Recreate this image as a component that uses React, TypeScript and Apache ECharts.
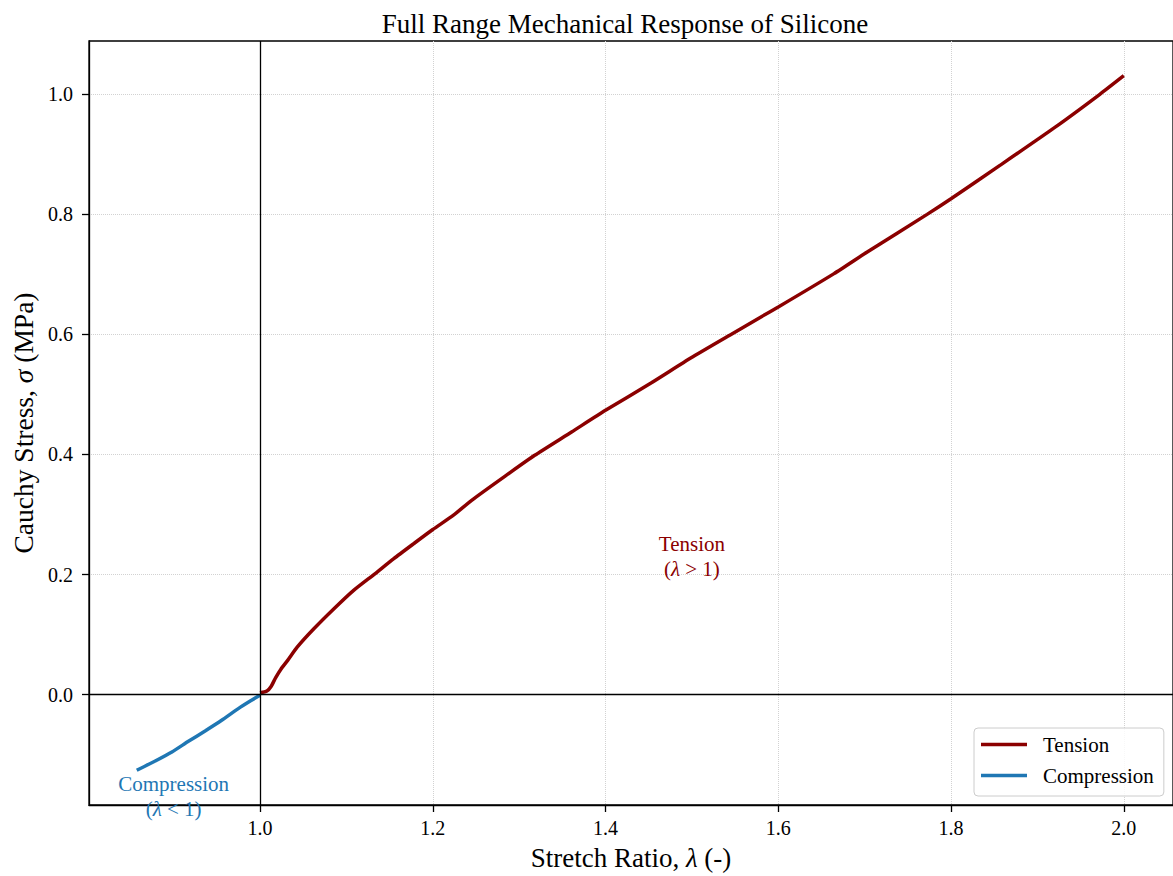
import React, { useEffect, useRef } from 'react';
import * as echarts from 'echarts';

const tensionStretch = [
  1.0, 1.008, 1.013, 1.018, 1.024, 1.032, 1.043, 1.0626, 1.0856, 1.1087, 1.1318,
  1.1549, 1.178, 1.2, 1.224, 1.245, 1.2838, 1.318, 1.3607, 1.4, 1.4527, 1.4991,
  1.5453, 1.578, 1.6, 1.6646, 1.703, 1.7723, 1.8, 1.857, 1.9223, 1.9723, 2.0,
];
const tensionStress = [
  0.003, 0.006, 0.014, 0.028, 0.042, 0.057, 0.079, 0.11, 0.143, 0.174, 0.2,
  0.2265, 0.2515, 0.275, 0.299, 0.3237, 0.364, 0.3986, 0.4375, 0.4736, 0.519, 0.561,
  0.6, 0.6275, 0.6457, 0.7013, 0.7373, 0.8, 0.826, 0.882, 0.947, 1.0, 1.031,
];
const compressionStretch = [0.8573, 0.8787, 0.898, 0.9171, 0.9364, 0.9556, 0.9749, 0.9902, 1.0];
const compressionStress = [-0.126, -0.1106, -0.0956, -0.0778, -0.0606, -0.0428, -0.0233, -0.0095, -0.001];

const xTicks = [1.0, 1.2, 1.4, 1.6, 1.8, 2.0];
const yTicks = [0.0, 0.2, 0.4, 0.6, 0.8, 1.0];
const xRange = [0.802, 2.057];
const yRange = [-0.1839, 1.0888];

const tensionColor = '#8b0000';
const compressionColor = '#1f77b4';

export default function App() {
  const ref = useRef<HTMLDivElement>(null);
  useEffect(() => {
    const chart = echarts.init(ref.current!, null, { renderer: 'svg' });
    const font = '"Liberation Serif", "DejaVu Serif", serif';
    const axisLineStyle = { color: '#000', width: 1.3 };
    const gridLine = { show: true, lineStyle: { type: 'dotted', color: '#d2d2d2', width: 1 } };
    const nameStyle = (size: number) => ({
      fontFamily: font, fontSize: size, color: '#000',
      rich: { i: { fontFamily: font, fontSize: size, fontStyle: 'italic', color: '#000' } },
    });
    const annotationRich = (color: string) => ({
      a: { fontFamily: font, fontSize: 21, color, lineHeight: 25, textBorderWidth: 0 },
      i: { fontFamily: font, fontSize: 21, fontStyle: 'italic', color, lineHeight: 25, textBorderWidth: 0 },
    });
    chart.setOption({
      animation: false,
      backgroundColor: '#fff',
      title: {
        text: 'Full Range Mechanical Response of Silicone',
        left: 620,
        textAlign: 'center',
        top: 5,
        textStyle: { fontFamily: font, fontSize: 27, fontWeight: 'normal', color: '#000' },
      },
      grid: { left: 89, top: 41, width: 1088, height: 764, show: true, borderColor: '#000', borderWidth: 1.3, containLabel: false },
      legend: {
        data: ['Tension', 'Compression'],
        orient: 'vertical',
        left: 974,
        top: 728,
        icon: 'rect',
        itemWidth: 46,
        itemHeight: 3.5,
        itemGap: 10,
        padding: [6, 10, 10, 7],
        backgroundColor: 'rgba(255,255,255,0.85)',
        borderColor: '#cccccc',
        borderWidth: 1,
        borderRadius: 4,
        textStyle: { fontFamily: font, fontSize: 21, color: '#000', lineHeight: 20, padding: [0, 0, 0, 11] },
      },
      xAxis: {
        type: 'value',
        min: xRange[0],
        max: xRange[1],
        name: 'Stretch Ratio, {i|λ} (-)',
        nameLocation: 'middle',
        nameGap: 39,
        nameTextStyle: nameStyle(27),
        axisLine: { show: true, onZero: false, lineStyle: axisLineStyle },
        axisTick: { show: true, length: 7, customValues: xTicks, lineStyle: axisLineStyle },
        axisLabel: {
          customValues: xTicks,
          formatter: (v: number) => v.toFixed(1),
          fontFamily: font, fontSize: 20, color: '#000', margin: 13,
        },
        splitLine: gridLine,
      },
      yAxis: {
        type: 'value',
        min: yRange[0],
        max: yRange[1],
        name: 'Cauchy Stress, {i|σ} (MPa)',
        nameLocation: 'middle',
        nameGap: 50,
        nameTextStyle: nameStyle(27.5),
        axisLine: { show: true, onZero: false, lineStyle: axisLineStyle },
        axisTick: { show: true, length: 7, customValues: yTicks, lineStyle: axisLineStyle },
        axisLabel: {
          customValues: yTicks,
          formatter: (v: number) => v.toFixed(1),
          fontFamily: font, fontSize: 20, color: '#000', margin: 16,
        },
        splitLine: gridLine,
      },
      series: [
        {
          name: 'Tension',
          type: 'line',
          data: tensionStretch.map((x, i) => [x, tensionStress[i]]),
          showSymbol: false,
          symbol: 'none',
          smooth: 0.2,
          lineStyle: { color: tensionColor, width: 3.5 },
          itemStyle: { color: tensionColor },
          z: 3,
          markLine: {
            silent: true,
            symbol: ['none', 'none'],
            label: { show: false },
            lineStyle: { color: '#000', width: 1.3, type: 'solid' },
            emphasis: { disabled: true },
            data: [{ xAxis: 1.0 }, { yAxis: 0.0 }],
          },
        },
        {
          name: 'Compression',
          type: 'line',
          data: compressionStretch.map((x, i) => [x, compressionStress[i]]),
          showSymbol: false,
          symbol: 'none',
          smooth: 0.2,
          lineStyle: { color: compressionColor, width: 3.5 },
          itemStyle: { color: compressionColor },
          z: 3,
        },
        {
          name: 'annotations',
          type: 'scatter',
          silent: true,
          symbolSize: 1,
          itemStyle: { color: '#ffffff', opacity: 1 },
          data: [
            {
              value: [1.5, 0.23],
              label: {
                show: true,
                position: 'inside',
                textBorderWidth: 0,
                opacity: 1,
                formatter: '{a|Tension}\n{a|(}{i|λ}{a| > 1)}',
                rich: annotationRich(tensionColor),
              },
            },
            {
              value: [0.9, -0.169],
              label: {
                show: true,
                position: 'inside',
                textBorderWidth: 0,
                opacity: 1,
                formatter: '{a|Compression}\n{a|(}{i|λ}{a| < 1)}',
                rich: annotationRich(compressionColor),
              },
            },
          ],
          z: 4,
        },
      ],
    });
    return () => chart.dispose();
  }, []);
  return (
    <div
      ref={ref}
      style={{ position: 'fixed', left: 0, top: 0, width: 1173, height: 876, background: '#fff' }}
    />
  );
}
